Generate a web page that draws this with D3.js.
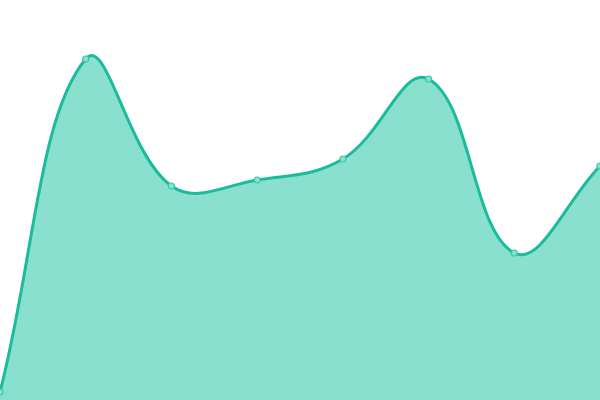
<!DOCTYPE html>
<html>
<head>
<meta charset="utf-8">
<script src="https://cdn.jsdelivr.net/npm/d3@7"></script>
<style>
  body { margin: 0; background: #fff; }
  .area { fill: #89e0cf; }
  .line { fill: none; stroke: #1abc9c; stroke-width: 3; }
  .dot { fill: #89e0cf; stroke: #3cc9a9; stroke-width: 1.2; }
</style>
</head>
<body>
<script>
var w = 600
var h = 400

// one value per step along the x axis
var steps = [0, 1, 2, 3, 4, 5, 6, 7]
var values = [8, 341, 214, 220, 241, 321, 147, 234]

var x = d3.scaleLinear().domain([0, steps.length - 1]).range([0, w])
var y = d3.scaleLinear().domain([0, 400]).range([h, 0])

var svg = d3.select("body").append("svg")
  .attr("width", w)
  .attr("height", h)

var data = steps.map(function (s, i) { return [s, values[i]] })

// Bezier spline with distance-weighted control points (tension 0.4)
function SplineCurve(context) { this._context = context }
SplineCurve.prototype = {
  areaStart: function () { this._line = 0 },
  areaEnd: function () { this._line = NaN },
  lineStart: function () { this._pts = [] },
  point: function (x, y) { this._pts.push([+x, +y]) },
  lineEnd: function () {
    var p = this._pts, c = this._context, n = p.length, t = 0.4
    if (n) {
      if (this._line) c.lineTo(p[0][0], p[0][1])
      else c.moveTo(p[0][0], p[0][1])
      var cps = p.map(function (cur, i) {
        var prev = p[i - 1] || cur, next = p[i + 1] || cur
        var d01 = Math.hypot(cur[0] - prev[0], cur[1] - prev[1])
        var d12 = Math.hypot(next[0] - cur[0], next[1] - cur[1])
        var s01 = d01 / (d01 + d12) || 0
        var s12 = d12 / (d01 + d12) || 0
        var fa = t * s01, fb = t * s12
        var dx = next[0] - prev[0], dy = next[1] - prev[1]
        return {
          before: [cur[0] - fa * dx, cur[1] - fa * dy],
          after: [cur[0] + fb * dx, cur[1] + fb * dy]
        }
      })
      for (var i = 1; i < n; ++i) {
        var a = cps[i - 1].after, b = cps[i].before
        c.bezierCurveTo(a[0], a[1], b[0], b[1], p[i][0], p[i][1])
      }
    }
    if (this._line || (this._line !== 0 && n === 1)) c.closePath()
    this._line = 1 - this._line
  }
}
var curve = function (context) { return new SplineCurve(context) }

var area = d3.area()
  .x(function (d) { return x(d[0]) })
  .y0(h)
  .y1(function (d) { return y(d[1]) })
  .curve(curve)

var line = d3.line()
  .x(function (d) { return x(d[0]) })
  .y(function (d) { return y(d[1]) })
  .curve(curve)

svg.append("path").datum(data).attr("class", "area").attr("d", area)
svg.append("path").datum(data).attr("class", "line").attr("d", line)

svg.selectAll("circle.dot")
  .data(data)
  .enter()
  .append("circle")
  .attr("class", "dot")
  .attr("cx", function (d) { return x(d[0]) })
  .attr("cy", function (d) { return y(d[1]) })
  .attr("r", 3)
</script>
</body>
</html>
